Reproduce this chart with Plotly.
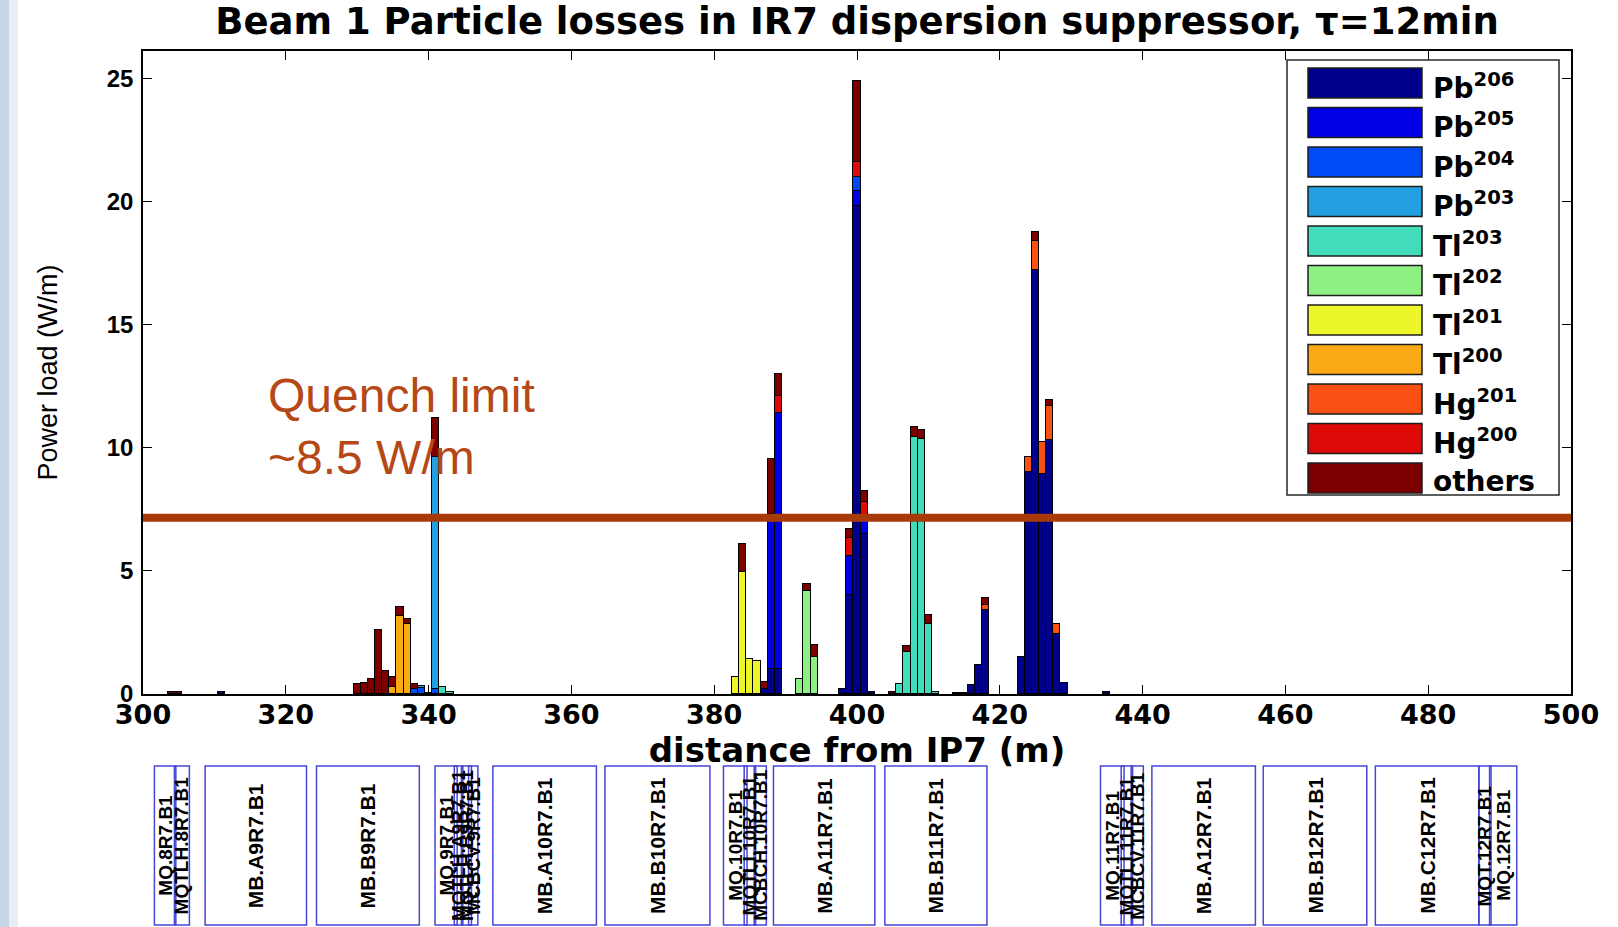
import plotly.graph_objects as go

# ---------------- data ----------------
positions = [304, 305, 311, 330, 331, 332, 333, 334, 335, 336, 337, 338, 339, 340, 341, 342, 343,
             383, 384, 385, 386, 387, 388, 389, 392, 393, 394, 398, 399, 400, 401, 402,
             405, 406, 407, 408, 409, 410, 411, 414, 415, 416, 417, 418,
             423, 424, 425, 426, 427, 428, 429, 435]

pb206 = [0, 0, 0.07, 0, 0, 0, 0, 0, 0, 0, 0, 0, 0, 0, 0, 0, 0,
         0, 0, 0, 0, 0.2, 1.0, 1.0, 0, 0, 0, 0.2, 4.0, 19.8, 6.5, 0.1,
         0, 0, 0, 0, 0, 0, 0, 0.05, 0.05, 0.35, 1.16, 3.4,
         1.49, 9.0, 17.2, 8.94, 10.3, 2.44, 0.45, 0.08]
pb205 = [0, 0, 0, 0, 0, 0, 0, 0, 0, 0, 0, 0, 0, 0, 0, 0, 0,
         0, 0, 0, 0, 0, 6.3, 10.4, 0, 0, 0, 0, 1.6, 0.6, 0.7, 0,
         0, 0, 0, 0, 0, 0, 0, 0, 0, 0, 0, 0,
         0, 0, 0, 0, 0, 0, 0, 0]
pb204 = [0, 0, 0, 0, 0, 0, 0, 0, 0, 0, 0, 0.2, 0.25, 0, 0.2, 0, 0,
         0, 0, 0, 0, 0, 0, 0, 0, 0, 0, 0, 0, 0.6, 0, 0,
         0, 0, 0, 0, 0, 0, 0, 0, 0, 0, 0, 0,
         0, 0, 0, 0, 0, 0, 0, 0]
pb203 = [0, 0, 0, 0, 0, 0, 0, 0, 0, 0, 0, 0, 0.08, 0.05, 9.4, 0, 0,
         0, 0, 0, 0, 0, 0, 0, 0, 0, 0, 0, 0, 0, 0, 0,
         0, 0, 0, 0, 0, 0, 0, 0, 0, 0, 0, 0,
         0, 0, 0, 0, 0, 0, 0, 0]
tl203 = [0, 0, 0, 0, 0, 0, 0, 0, 0, 0, 0, 0, 0, 0, 0, 0.3, 0.1,
         0, 0, 0, 0, 0, 0, 0, 0, 0, 0, 0, 0, 0, 0, 0,
         0, 0.41, 1.7, 10.44, 10.37, 2.85, 0.07, 0, 0, 0, 0, 0,
         0, 0, 0, 0, 0, 0, 0, 0]
tl202 = [0, 0, 0, 0, 0, 0, 0, 0, 0, 0, 0, 0, 0, 0, 0, 0, 0,
         0, 0, 0, 0, 0, 0, 0, 0.62, 4.2, 1.52, 0, 0, 0, 0, 0,
         0, 0, 0, 0, 0, 0, 0, 0, 0, 0, 0, 0,
         0, 0, 0, 0, 0, 0, 0, 0]
tl201 = [0, 0, 0, 0, 0, 0, 0, 0, 0, 0, 0, 0, 0, 0, 0, 0, 0,
         0.7, 4.96, 1.43, 1.34, 0, 0, 0, 0, 0, 0, 0, 0, 0, 0, 0,
         0, 0, 0, 0, 0, 0, 0, 0, 0, 0, 0, 0,
         0, 0, 0, 0, 0, 0, 0, 0]
tl200 = [0, 0, 0, 0, 0, 0, 0, 0, 0.3, 3.18, 2.86, 0, 0, 0, 0, 0, 0,
         0, 0, 0, 0, 0, 0, 0, 0, 0, 0, 0, 0, 0, 0, 0,
         0, 0, 0, 0, 0, 0, 0, 0, 0, 0, 0, 0,
         0, 0, 0, 0, 0, 0, 0, 0]
hg201 = [0, 0, 0, 0, 0, 0, 0, 0, 0, 0, 0, 0, 0, 0, 0, 0, 0,
         0, 0, 0, 0, 0, 0, 0, 0, 0, 0, 0, 0, 0, 0, 0,
         0, 0, 0, 0, 0, 0, 0, 0, 0, 0, 0, 0.2,
         0, 0.62, 1.2, 1.29, 1.4, 0.41, 0, 0]
hg200 = [0, 0, 0, 0, 0, 0, 0, 0, 0, 0, 0, 0, 0, 0, 0, 0, 0,
         0, 0, 0, 0, 0, 0, 0.7, 0, 0, 0, 0, 0.75, 0.6, 0.6, 0,
         0, 0, 0, 0, 0, 0, 0, 0, 0, 0, 0, 0,
         0, 0, 0, 0, 0, 0, 0, 0]
others = [0.1, 0.07, 0, 0.4, 0.45, 0.6, 2.58, 0.95, 0.38, 0.35, 0.2, 0.21, 0, 0, 1.6, 0, 0,
          0, 1.12, 0, 0, 0.27, 2.25, 0.9, 0, 0.25, 0.45, 0, 0.34, 3.3, 0.44, 0,
          0.07, 0, 0.25, 0.41, 0.34, 0.34, 0, 0, 0, 0, 0, 0.31,
          0, 0, 0.37, 0, 0.22, 0, 0, 0]

species_labels = ["Pb<sup>206</sup>", "Pb<sup>205</sup>", "Pb<sup>204</sup>", "Pb<sup>203</sup>",
                  "Tl<sup>203</sup>", "Tl<sup>202</sup>", "Tl<sup>201</sup>", "Tl<sup>200</sup>",
                  "Hg<sup>201</sup>", "Hg<sup>200</sup>", "others"]
species_values = [pb206, pb205, pb204, pb203, tl203, tl202, tl201, tl200, hg201, hg200, others]
species_colors = ["rgb(0,0,140)", "rgb(0,0,230)", "rgb(0,75,245)", "rgb(35,160,225)",
                  "rgb(65,220,185)", "rgb(140,240,130)", "rgb(236,246,40)", "rgb(250,170,20)",
                  "rgb(250,80,20)", "rgb(222,10,10)", "rgb(125,0,0)"]

quench_limit = 7.15
x_ticks = [300, 320, 340, 360, 380, 400, 420, 440, 460, 480, 500]
y_ticks = [0, 5, 10, 15, 20, 25]

element_names = ["MQ.8R7.B1", "MQTLH.8R7.B1", "MB.A9R7.B1", "MB.B9R7.B1",
                 "MQ.9R7.B1", "MQTLH.A9R7.B1", "MQTLH.B9R7.B1", "MCBCV.9R7.B1",
                 "MB.A10R7.B1", "MB.B10R7.B1",
                 "MQ.10R7.B1", "MQTLI.10R7.B1", "MCBCH.10R7.B1",
                 "MB.A11R7.B1", "MB.B11R7.B1",
                 "MQ.11R7.B1", "MQTLI.11R7.B1", "MCBCV.11R7.B1",
                 "MB.A12R7.B1", "MB.B12R7.B1", "MB.C12R7.B1",
                 "MQT.12R7.B1", "MQ.12R7.B1"]
element_start = [301.6, 304.4, 308.7, 324.3, 340.9, 343.6, 344.6, 345.6, 349.0, 364.7,
                 381.3, 384.2, 385.6, 388.3, 403.9, 434.1, 437.0, 438.4, 441.3, 456.9,
                 472.6, 487.1, 488.6]
element_end = [304.6, 306.5, 322.9, 338.7, 344.0, 344.8, 346.0, 346.9, 363.5, 379.4,
               384.6, 385.8, 387.3, 402.5, 418.2, 437.4, 438.6, 440.1, 455.8, 471.4,
               487.1, 488.8, 492.4]

# ---------------- layout geometry ----------------
W, H = 1618, 927
ML, MR, MT, MB = 143, 47, 51, 233
PW, PH = W - ML - MR, H - MT - MB


def pxx(px):
    return (px - ML) / PW


def pyy(py):
    return (MT + PH - py) / PH


fig = go.Figure()

for lab, vals, col in zip(species_labels, species_values, species_colors):
    fig.add_trace(go.Bar(
        x=positions,
        y=[v if v > 0 else None for v in vals],
        name=lab,
        width=1.0,
        marker=dict(color=col, line=dict(color="black", width=1)),
        showlegend=False,
    ))

fig.add_trace(go.Scatter(
    x=[x_ticks[0], x_ticks[-1]], y=[quench_limit, quench_limit],
    mode="lines", line=dict(color="rgb(168,58,8)", width=8),
    showlegend=False, hoverinfo="skip",
))

shapes = []
annotations = []

# slide background strip on the left edge
shapes.append(dict(type="rect", xref="paper", yref="paper", x0=pxx(0), x1=pxx(9),
                   y0=pyy(H), y1=pyy(0), fillcolor="rgb(200,212,232)", line=dict(width=0),
                   layer="below"))
shapes.append(dict(type="rect", xref="paper", yref="paper", x0=pxx(9), x1=pxx(18),
                   y0=pyy(H), y1=pyy(0), fillcolor="rgb(232,237,246)", line=dict(width=0),
                   layer="below"))

# MATLAB-style legend box
shapes.append(dict(type="rect", xref="paper", yref="paper", x0=pxx(1287), x1=pxx(1559),
                   y0=pyy(495), y1=pyy(60), fillcolor="white",
                   line=dict(color="rgb(40,40,40)", width=1.5), layer="above"))
for i, (lab, col) in enumerate(zip(species_labels, species_colors)):
    top = 68 + 39.5 * i
    shapes.append(dict(type="rect", xref="paper", yref="paper", x0=pxx(1308), x1=pxx(1422),
                       y0=pyy(top + 30), y1=pyy(top), fillcolor=col,
                       line=dict(color="rgb(30,30,30)", width=1.5), layer="above"))
    annotations.append(dict(xref="paper", yref="paper", x=pxx(1431), y=pyy(top + 18),
                            xanchor="left", yanchor="middle", text="<b>" + lab + "</b>",
                            showarrow=False,
                            font=dict(family="DejaVu Sans", size=28, color="black")))

# element boxes below the axis
box_y0, box_y1 = pyy(925), pyy(766)
for name, s, e in zip(element_names, element_start, element_end):
    shapes.append(dict(type="rect", xref="x", yref="paper", x0=s, x1=e, y0=box_y0, y1=box_y1,
                       line=dict(color="rgb(70,70,215)", width=1.5), fillcolor="rgba(0,0,0,0)"))
    big = name.startswith("MB.")
    annotations.append(dict(xref="x", yref="paper", x=(s + e) / 2, y=(box_y0 + box_y1) / 2,
                            text="<b>" + name + "</b>", textangle=-90, showarrow=False,
                            xanchor="center", yanchor="middle",
                            font=dict(family="Liberation Sans", size=21 if big else 19,
                                      color="black")))

# quench limit text
annotations.append(dict(xref="x", yref="y", x=317.2, y=10.85, xanchor="left", yanchor="middle",
                        align="left", showarrow=False,
                        text="Quench limit<br>~8.5 W/m",
                        font=dict(family="Liberation Sans", size=48, color="rgb(182,72,22)")))

axis_common = dict(
    ticks="inside", ticklen=9, tickwidth=1.2, tickcolor="black",
    showline=True, linecolor="black", linewidth=1.5, mirror="ticks",
    showgrid=False, zeroline=False,
)

fig.update_layout(
    width=W, height=H,
    margin=dict(l=ML, r=MR, t=MT, b=MB),
    paper_bgcolor="white", plot_bgcolor="white",
    barmode="stack", bargap=0,
    showlegend=False,
    title=dict(text="<b>Beam 1 Particle losses in IR7 dispersion suppressor, \u03c4=12min</b>",
               x=0.5, xref="paper", xanchor="center",
               y=1 - 21 / H, yref="container", yanchor="middle",
               font=dict(family="DejaVu Sans", size=37, color="black")),
    xaxis=dict(range=[300, 500], tickvals=x_ticks, ticktext=[str(t) for t in x_ticks],
               ticklabelstandoff=-4,
               tickfont=dict(family="DejaVu Sans", size=27, color="black", weight="bold"),
               title=dict(text="<b>distance from IP7 (m)</b>", standoff=0,
                          font=dict(family="DejaVu Sans", size=34, color="black")),
               **axis_common),
    yaxis=dict(range=[0, 26.1], tickvals=y_ticks, ticktext=[str(t) for t in y_ticks],
               ticklabelstandoff=3,
               tickfont=dict(family="Liberation Sans", size=24, color="black", weight="bold"),
               title=dict(text="Power load (W/m)", standoff=41,
                          font=dict(family="Liberation Sans", size=27, color="black")),
               **axis_common),
    shapes=shapes,
    annotations=annotations,
)

fig.write_html("out.html")
